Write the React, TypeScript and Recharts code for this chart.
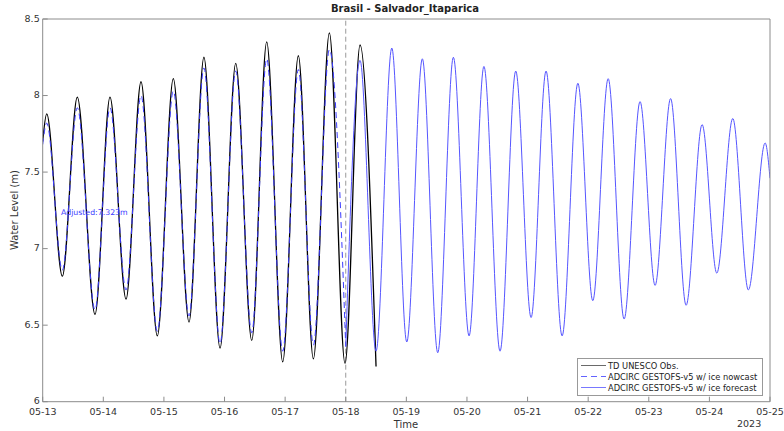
import React from 'react'
import { LineChart, Line, XAxis, YAxis, ReferenceLine } from 'recharts'

// x is days since 05-13 00:00
const dayTicks = [0, 1, 2, 3, 4, 5, 6, 7, 8, 9, 10, 11, 12]
const dayLabels = ['05-13', '05-14', '05-15', '05-16', '05-17', '05-18', '05-19', '05-20', '05-21', '05-22', '05-23', '05-24', '05-25']
const levelTicks = [6, 6.5, 7, 7.5, 8, 8.5]

const obsTime = [0, 0.066, 0.324, 0.571, 0.863, 1.11, 1.375, 1.622, 1.891, 2.155, 2.414, 2.66, 2.926, 3.185, 3.449, 3.696, 3.96, 4.218, 4.466, 4.73, 4.988, 5.236, 5.5]
const obsLevel = [7.7, 7.88, 6.82, 7.99, 6.57, 7.99, 6.67, 8.09, 6.43, 8.11, 6.52, 8.25, 6.35, 8.21, 6.4, 8.35, 6.26, 8.26, 6.28, 8.41, 6.25, 8.33, 6.23]

// nowcast
const nowTime = [0, 0.066, 0.324, 0.571, 0.863, 1.11, 1.375, 1.622, 1.891, 2.155, 2.414, 2.66, 2.926, 3.185, 3.449, 3.696, 3.96, 4.218, 4.466, 4.73, 5.0]
const nowLevel = [7.68, 7.82, 6.86, 7.92, 6.6, 7.92, 6.73, 8.0, 6.46, 8.03, 6.56, 8.18, 6.38, 8.16, 6.45, 8.24, 6.33, 8.17, 6.37, 8.3, 6.36]

// forecast
const fcTime = [5.0, 5.236, 5.5, 5.76, 6.007, 6.264, 6.518, 6.776, 7.035, 7.28, 7.546, 7.805, 8.058, 8.305, 8.57, 8.83, 9.076, 9.33, 9.593, 9.856, 10.104, 10.36, 10.616, 10.88, 11.122, 11.386, 11.643, 11.92, 12.0]
const fcLevel = [6.36, 8.23, 6.33, 8.31, 6.39, 8.24, 6.32, 8.25, 6.43, 8.19, 6.33, 8.16, 6.55, 8.16, 6.43, 8.08, 6.66, 8.11, 6.54, 7.96, 6.76, 7.98, 6.63, 7.81, 6.84, 7.85, 6.73, 7.69, 7.46]

const toRows = (t: number[], v: number[]) => t.map((x, i) => ({ t: x, level: v[i] }))

const FONT = '"DejaVu Sans", sans-serif'
const AXIS = '#8c8c8c'
const TEXT = '#333'
const BLUE_NOW = '#3b3bff'
const BLUE_FC = '#5555ff'

const tickStyle = { fontSize: 9.5, fontFamily: FONT, fill: TEXT }

// y tick labels, nudged up a hair so the bottom one clears the date labels
const LevelTick = (props: any) => {
  const { x, y, payload } = props
  return (
    <text x={x} y={y} dy={2.5} textAnchor="end" fontSize={9.5} fontFamily={FONT} fill={TEXT}>
      {payload.value}
    </text>
  )
}

function LegendBox() {
  const rows = [
    { label: 'TD UNESCO Obs.', color: '#444', dash: undefined },
    { label: 'ADCIRC GESTOFS-v5 w/ ice nowcast', color: BLUE_NOW, dash: '6 4' },
    { label: 'ADCIRC GESTOFS-v5 w/ ice forecast', color: BLUE_FC, dash: undefined }
  ]
  return (
    <div
      style={{
        position: 'absolute',
        left: 577,
        top: 358,
        width: 184,
        height: 35,
        border: '1px solid #999',
        background: '#fff',
        fontFamily: FONT,
        fontSize: 8.3,
        color: '#222',
        paddingTop: 1
      }}
    >
      {rows.map((r) => (
        <div key={r.label} style={{ display: 'flex', alignItems: 'center', height: 11, whiteSpace: 'nowrap' }}>
          <svg width={28} height={11} style={{ marginLeft: 2 }}>
            <line x1={1} x2={26} y1={5.5} y2={5.5} stroke={r.color} strokeWidth={0.8} strokeDasharray={r.dash} />
          </svg>
          <span>{r.label}</span>
        </div>
      ))}
    </div>
  )
}

export default function App() {
  return (
    <div style={{ position: 'relative', width: 784, height: 431, background: '#fff' }}>
      <style>{'body{margin:0}'}</style>
      <LineChart width={784} height={431} margin={{ top: 0, right: 0, bottom: 0, left: 0 }}>
        <XAxis
          xAxisId="bottom"
          dataKey="t"
          type="number"
          domain={[0, 12]}
          ticks={dayTicks}
          tickFormatter={(v: number) => dayLabels[v]}
          height={29.3}
          stroke={AXIS}
          tickSize={-5}
          tickMargin={12}
          tick={tickStyle}
          allowDataOverflow
        />
        <XAxis
          xAxisId="top"
          orientation="top"
          dataKey="t"
          type="number"
          domain={[0, 12]}
          ticks={dayTicks}
          height={19}
          stroke={AXIS}
          tickSize={-5}
          tick={false}
        />
        <YAxis
          yAxisId="left"
          type="number"
          domain={[6, 8.5]}
          ticks={levelTicks}
          width={42.7}
          stroke={AXIS}
          tickSize={-5}
          tickMargin={8}
          tick={<LevelTick />}
          allowDataOverflow
        />
        <YAxis
          yAxisId="right"
          orientation="right"
          type="number"
          domain={[6, 8.5]}
          ticks={levelTicks}
          width={14}
          stroke={AXIS}
          tickSize={-5}
          tick={false}
        />
        <ReferenceLine xAxisId="bottom" yAxisId="left" x={5} stroke="#9a9a9a" strokeDasharray="5 3" />
        <Line
          xAxisId="bottom"
          yAxisId="left"
          data={toRows(obsTime, obsLevel)}
          dataKey="level"
          type="monotone"
          stroke="#000"
          strokeWidth={1.3}
          dot={false}
          isAnimationActive={false}
        />
        <Line
          xAxisId="bottom"
          yAxisId="left"
          data={toRows(nowTime, nowLevel)}
          dataKey="level"
          type="monotone"
          stroke={BLUE_NOW}
          strokeWidth={1}
          strokeDasharray="6 4"
          dot={false}
          isAnimationActive={false}
        />
        <Line
          xAxisId="bottom"
          yAxisId="left"
          data={toRows(fcTime, fcLevel)}
          dataKey="level"
          type="monotone"
          stroke={BLUE_FC}
          strokeWidth={1}
          dot={false}
          isAnimationActive={false}
        />
      </LineChart>
      <div
        style={{
          position: 'absolute',
          left: 0,
          width: 784,
          top: 3,
          textAlign: 'center',
          fontFamily: FONT,
          fontWeight: 'bold',
          fontSize: 10,
          color: '#222',
          paddingLeft: 13
        }}
      >
        Brasil - Salvador_Itaparica
      </div>
      <div
        style={{
          position: 'absolute',
          left: 14.3,
          top: 210,
          transform: 'translate(-50%, -50%) rotate(-90deg)',
          whiteSpace: 'nowrap',
          fontFamily: FONT,
          fontSize: 10,
          color: TEXT
        }}
      >
        Water Level (m)
      </div>
      <div
        style={{
          position: 'absolute',
          left: 406,
          top: 424,
          transform: 'translate(-50%, -50%)',
          fontFamily: FONT,
          fontSize: 10,
          color: TEXT
        }}
      >
        Time
      </div>
      <div style={{ position: 'absolute', left: 737, top: 418, fontFamily: FONT, fontSize: 9.5, color: TEXT }}>2023</div>
      <div style={{ position: 'absolute', left: 61, top: 208, fontFamily: FONT, fontSize: 7.8, color: BLUE_NOW }}>
        Adjusted:7.323m
      </div>
      <LegendBox />
    </div>
  )
}
